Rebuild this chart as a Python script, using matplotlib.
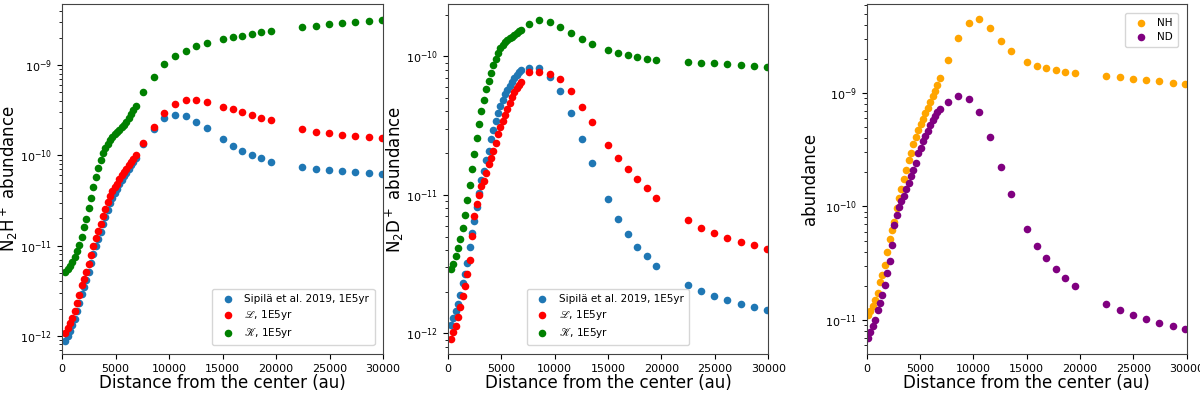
import numpy as np
import matplotlib
matplotlib.use("Agg")
import matplotlib.pyplot as plt
from matplotlib.ticker import NullFormatter, LogLocator

# ---------------- radii (au) ----------------
r_inner = [300, 520, 740, 960, 1180, 1400, 1620, 1840, 2060, 2280, 2500, 2720, 2940,
           3160, 3380, 3600, 3820, 4040, 4260, 4480, 4700, 4920, 5140, 5360, 5580,
           5800, 6020, 6240, 6460, 6680, 6900]
r_inner_3 = [125, 349, 573, 797, 1021, 1245, 1469, 1693, 1917, 2141, 2365, 2589, 2813,
             3037, 3261, 3485, 3709, 3933, 4157, 4381, 4605, 4829, 5053, 5277, 5501,
             5725, 5949, 6173, 6397, 6621, 6845]
r_outer = [7600, 8560, 9560, 10530, 11560, 12560, 13530, 15000, 15940, 16840, 17750,
           18630, 19530, 22470, 23720, 24940, 26160, 27410, 28690, 29880]

# ---------------- panel 1: N2H+ (log10 abundance) ----------------
n2h_sipila = [-12.06, -12.0, -11.945, -11.885, -11.81, -11.73, -11.64, -11.54, -11.46,
              -11.38, -11.29, -11.19, -11.095, -11.01, -10.925, -10.85, -10.76, -10.68,
              -10.60, -10.53, -10.47, -10.415, -10.37, -10.32, -10.27, -10.23, -10.19,
              -10.15, -10.11, -10.07, -10.03,
              -9.87, -9.71, -9.59, -9.55, -9.56, -9.625, -9.70, -9.82, -9.895, -9.95,
              -9.999, -10.03, -10.07, -10.125, -10.15, -10.16, -10.17, -10.18, -10.195, -10.205]
n2h_L = [-11.97, -11.915, -11.86, -11.80, -11.725, -11.64, -11.55, -11.44, -11.37, -11.29,
         -11.20, -11.10, -11.005, -10.92, -10.835, -10.765, -10.67, -10.595, -10.52,
         -10.455, -10.40, -10.35, -10.315, -10.265, -10.215, -10.18, -10.15, -10.11,
         -10.075, -10.04, -10.00,
         -9.866, -9.684, -9.53, -9.433, -9.39, -9.39, -9.41, -9.46, -9.49, -9.52, -9.55,
         -9.58, -9.61, -9.71, -9.74, -9.755, -9.77, -9.78, -9.795, -9.805]
n2h_K = [-11.29, -11.264, -11.225, -11.18, -11.13, -11.065, -10.99, -10.905, -10.795,
         -10.70, -10.58, -10.47, -10.345, -10.24, -10.14, -10.05, -9.975, -9.92, -9.87,
         -9.83, -9.792, -9.76, -9.74, -9.715, -9.69, -9.657, -9.625, -9.59, -9.545,
         -9.495, -9.455,
         -9.30, -9.13, -8.99, -8.90, -8.84, -8.79, -8.75, -8.71, -8.69, -8.67, -8.65,
         -8.63, -8.62, -8.57, -8.56, -8.545, -8.53, -8.515, -8.51, -8.50]

# ---------------- panel 2: N2D+ (log10 abundance) ----------------
n2d_sipila = [-11.937, -11.89, -11.84, -11.79, -11.72, -11.636, -11.574, -11.495, -11.38,
              -11.275, -11.188, -11.088, -10.985, -10.895, -10.829, -10.75, -10.68,
              -10.597, -10.533, -10.466, -10.408, -10.362, -10.316, -10.274, -10.24,
              -10.212, -10.183, -10.158, -10.137, -10.116, -10.10,
              -10.082, -10.087, -10.152, -10.25, -10.41, -10.594, -10.77, -11.03, -11.174,
              -11.28, -11.377, -11.444, -11.516, -11.653, -11.694, -11.73, -11.76,
              -11.786, -11.807, -11.83]
n2d_L = [-12.04, -11.99, -11.945, -11.885, -11.812, -11.732, -11.656, -11.568, -11.47,
         -11.30, -11.15, -11.065, -11.00, -10.933, -10.897, -10.844, -10.78, -10.735,
         -10.682, -10.624, -10.563, -10.511, -10.467, -10.424, -10.38, -10.335, -10.29,
         -10.256, -10.228, -10.206, -10.185,
         -10.113, -10.116, -10.125, -10.166, -10.248, -10.363, -10.474, -10.64, -10.736,
         -10.811, -10.888, -10.95, -11.02, -11.18, -11.237, -11.278, -11.312, -11.34,
         -11.365, -11.389]
n2d_K = [-11.535, -11.497, -11.444, -11.381, -11.318, -11.238, -11.147, -11.037, -10.93,
         -10.816, -10.708, -10.587, -10.49, -10.398, -10.316, -10.238, -10.175, -10.117,
         -10.064, -10.018, -9.976, -9.94, -9.915, -9.899, -9.882, -9.871, -9.86, -9.848,
         -9.833, -9.82, -9.81,
         -9.769, -9.738, -9.75, -9.786, -9.829, -9.875, -9.909, -9.952, -9.974, -9.99,
         -10.005, -10.017, -10.029, -10.043, -10.048, -10.05, -10.055, -10.06, -10.067,
         -10.077]

# ---------------- panel 3: NH / ND (log10 abundance) ----------------
nh = [-10.956, -10.917, -10.881, -10.828, -10.762, -10.668, -10.606, -10.513, -10.401,
      -10.283, -10.205, -10.136, -10.017, -9.924, -9.845, -9.755, -9.677, -9.592, -9.526,
      -9.45, -9.387, -9.322, -9.277, -9.226, -9.179, -9.131, -9.083, -9.03, -8.982,
      -8.93, -8.871,
      -8.709, -8.512, -8.38, -8.351, -8.424, -8.539, -8.63, -8.724, -8.762, -8.783,
      -8.80, -8.812, -8.824, -8.85, -8.862, -8.874, -8.885, -8.897, -8.909, -8.924]
nd = [-11.162, -11.102, -11.051, -10.998, -10.916, -10.849, -10.78, -10.69, -10.584,
      -10.484, -10.34, -10.167, -10.074, -10.006, -9.955, -9.909, -9.85, -9.797, -9.731,
      -9.679, -9.62, -9.533, -9.483, -9.424, -9.379, -9.331, -9.278, -9.235, -9.20,
      -9.169, -9.144,
      -9.076, -9.029, -9.05, -9.167, -9.385, -9.655, -9.893, -10.198, -10.348, -10.457,
      -10.554, -10.627, -10.70, -10.862, -10.915, -10.956, -10.994, -11.029, -11.053,
      -11.082]

labels_models = ["Sipil\u00e4 et al. 2019, 1E5yr", r"$\mathscr{L}$, 1E5yr", r"$\mathscr{K}$, 1E5yr"]
labels_nhnd = ["NH", "ND"]
xlabel = "Distance from the center (au)"
yticks_1 = [1e-12, 1e-11, 1e-10, 1e-9]
yticks_2 = [1e-12, 1e-11, 1e-10]
yticks_3 = [1e-11, 1e-10, 1e-9]

r12 = np.array(r_inner + r_outer)
r3 = np.array(r_inner_3 + r_outer)

fig = plt.figure(figsize=(12, 3.95), dpi=100)
ax1 = fig.add_axes([62 / 1200, 41 / 395, 321 / 1200, 350 / 395])
ax2 = fig.add_axes([447.7 / 1200, 41 / 395, 320.6 / 1200, 350 / 395])
ax3 = fig.add_axes([866.7 / 1200, 41 / 395, 320 / 1200, 350 / 395])

S = 30
LBL = 12
for ax, series, ylab, ylim in [
    (ax1, [n2h_sipila, n2h_L, n2h_K], r"N$_2$H$^+$ abundance", (-12.203, -8.32)),
    (ax2, [n2d_sipila, n2d_L, n2d_K], r"N$_2$D$^+$ abundance", (-12.149, -9.622)),
]:
    for vals, col, lab in zip(series, ["#1f77b4", "red", "green"], labels_models):
        ax.scatter(r12, 10.0 ** np.array(vals), s=S, color=col, label=lab, linewidths=0)
    ax.set_yscale("log")
    ax.set_ylim(10 ** ylim[0], 10 ** ylim[1])
    ax.set_ylabel(ylab, fontsize=LBL, labelpad=0)

for vals, col, lab in zip([nh, nd], ["orange", "purple"], labels_nhnd):
    ax3.scatter(r3, 10.0 ** np.array(vals), s=S, color=col, label=lab, linewidths=0)
ax3.set_yscale("log")
ax3.set_ylim(10 ** -11.30, 10 ** -8.216)
ax3.set_ylabel("abundance", fontsize=LBL, labelpad=4)

for ax, yt in zip((ax1, ax2, ax3), (yticks_1, yticks_2, yticks_3)):
    ax.set_yticks(yt)
    ax.yaxis.set_minor_locator(LogLocator(base=10, subs=np.arange(2, 10)))
    ax.yaxis.set_minor_formatter(NullFormatter())
    ax.set_xlim(0, 30000)
    ax.set_xticks([0, 5000, 10000, 15000, 20000, 25000, 30000])
    ax.set_xlabel(xlabel, fontsize=LBL, labelpad=0)
    ax.tick_params(labelsize=8)
    for sp in ax.spines.values():
        sp.set_color("#444444")

leg_kw = dict(fontsize=7.5, framealpha=0.8, borderpad=0.5, handletextpad=0.6,
              labelspacing=0.4, markerscale=1.0)
ax1.legend(loc="lower right", bbox_to_anchor=(0.99, 0.01), **leg_kw)
ax2.legend(loc="lower center", bbox_to_anchor=(0.5, 0.01), **leg_kw)
ax3.legend(loc="upper right", bbox_to_anchor=(0.99, 0.99), **leg_kw)

fig.savefig("out.png", dpi=100)
